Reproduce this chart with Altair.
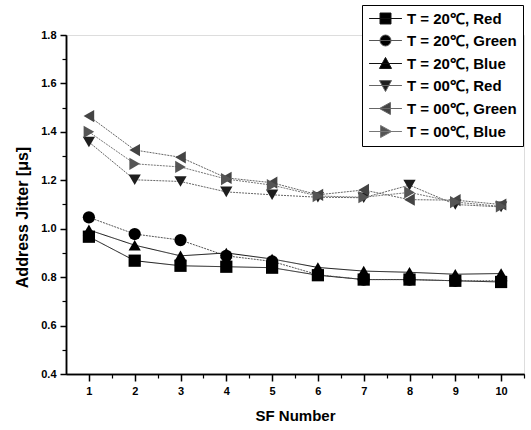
import altair as alt
import pandas as pd

sf = [1, 2, 3, 4, 5, 6, 7, 8, 9, 10]
red20 = [0.967, 0.868, 0.847, 0.843, 0.839, 0.808, 0.790, 0.790, 0.785, 0.780]
green20 = [1.047, 0.978, 0.953, 0.888, 0.865, 0.810, 0.790, 0.790, 0.785, 0.785]
blue20 = [0.995, 0.932, 0.888, 0.900, 0.875, 0.840, 0.825, 0.820, 0.812, 0.815]
red00 = [1.358, 1.202, 1.195, 1.152, 1.140, 1.130, 1.128, 1.180, 1.100, 1.090]
green00 = [1.465, 1.325, 1.295, 1.210, 1.190, 1.140, 1.160, 1.120, 1.118, 1.100]
blue00 = [1.400, 1.268, 1.255, 1.205, 1.180, 1.135, 1.130, 1.150, 1.110, 1.092]

series_names = ["T = 20℃, Red", "T = 20℃, Green", "T = 20℃, Blue",
                "T = 00℃, Red", "T = 00℃, Green", "T = 00℃, Blue"]
series_values = [red20, green20, blue20, red00, green00, blue00]

x_major = [1, 2, 3, 4, 5, 6, 7, 8, 9, 10]
x_minor = [1.5, 2.5, 3.5, 4.5, 5.5, 6.5, 7.5, 8.5, 9.5, 10.5]
y_major = [0.4, 0.6, 0.8, 1.0, 1.2, 1.4, 1.6, 1.8]
y_minor = [0.5, 0.7, 0.9, 1.1, 1.3, 1.5, 1.7]

marker_colors = ["#000000", "#000000", "#000000", "#1e1e1e", "#444444", "#555555"]
line_colors = ["#111111", "#555555", "#111111", "#666666", "#666666", "#777777"]
dashes = [[1, 0], [2, 1], [1, 0], [2, 1], [2, 1], [2, 1]]
plot_shapes = ["square", "circle", "triangle-up", "triangle-down", "triangle-left", "triangle-right"]
legend_shapes = [
    "M-3,0H3M-1,-1H1V1H-1Z",
    "M-3,0H3M1,0A1,1,0,1,1,-1,0A1,1,0,1,1,1,0Z",
    "M-3,0H3M0,-1.1L1.1,0.9H-1.1Z",
    "M-3,0H3M0,1.1L1.1,-0.9H-1.1Z",
    "M-3,0H3M-1.1,0L0.9,-1.1V1.1Z",
    "M-3,0H3M1.1,0L-0.9,-1.1V1.1Z",
]

rows = []
for name, vals in zip(series_names, series_values):
    for s, v in zip(sf, vals):
        rows.append({"sf": s, "value": v, "series": name})
df = pd.DataFrame(rows)

FONT = "Liberation Sans"
xscale = alt.Scale(domain=[0.5, 10.5], nice=False, zero=False)
yscale = alt.Scale(domain=[0.4, 1.8], nice=False, zero=False)

x_main_axis = alt.Axis(values=x_major, title="SF Number", grid=False, tickSize=7, orient="bottom",
                       tickWidth=1.5, labelPadding=4, titlePadding=12,
                       labelFont=FONT, labelFontWeight="bold", labelFontSize=11,
                       titleFont=FONT, titleFontWeight="bold", titleFontSize=15,
                       labelColor="black", titleColor="black", domainColor="black",
                       tickColor="black", domainWidth=1.5)
y_main_axis = alt.Axis(values=y_major, format=".1f", title="Address Jitter [μs]", grid=False,
                       orient="left", titleY=182,
                       tickSize=6, tickWidth=1.5, labelPadding=4, titlePadding=10,
                       labelFont=FONT, labelFontWeight="bold", labelFontSize=11,
                       titleFont=FONT, titleFontWeight="bold", titleFontSize=16,
                       labelColor="black", titleColor="black", domainColor="black",
                       tickColor="black", domainWidth=1.5)
x_minor_axis = alt.Axis(values=x_minor, labels=False, title=None, grid=False, tickSize=4,
                        orient="bottom",
                        tickWidth=1.2, tickColor="black", domainColor="black", domainWidth=1.5)
y_minor_axis = alt.Axis(values=y_minor, labels=False, title=None, grid=False, tickSize=4,
                        orient="left",
                        tickWidth=1.2, tickColor="black", domainColor="black", domainWidth=1.5)

lines = alt.Chart(df).mark_line(strokeWidth=1).encode(
    x=alt.X("sf:Q", scale=xscale, axis=x_main_axis),
    y=alt.Y("value:Q", scale=yscale, axis=y_main_axis),
    color=alt.Color("series:N", scale=alt.Scale(domain=series_names, range=line_colors), legend=None),
    strokeDash=alt.StrokeDash("series:N", scale=alt.Scale(domain=series_names, range=dashes), legend=None),
)

points = alt.Chart(df).mark_point(filled=True, size=150, opacity=1).encode(
    x=alt.X("sf:Q", scale=xscale, axis=None),
    y=alt.Y("value:Q", scale=yscale, axis=None),
    color=alt.Color("series:N", scale=alt.Scale(domain=series_names, range=marker_colors), legend=None),
    shape=alt.Shape("series:N", scale=alt.Scale(domain=series_names, range=plot_shapes), legend=None),
)

legend = alt.Legend(title=None, orient="none", legendX=296, legendY=-30,
                    strokeColor="black", fillColor="white", padding=6,
                    labelFont=FONT, labelFontWeight="bold", labelFontSize=15, labelColor="black",
                    symbolSize=120, symbolOpacity=1, symbolStrokeWidth=1,
                    symbolOffset=10, labelOffset=14, rowPadding=6, labelLimit=300)

legend_layer = alt.Chart(df).mark_point(filled=True, size=120, opacity=0).encode(
    x=alt.X("sf:Q", scale=xscale, axis=x_minor_axis),
    y=alt.Y("value:Q", scale=yscale, axis=y_minor_axis),
    color=alt.Color("series:N", scale=alt.Scale(domain=series_names, range=marker_colors), legend=legend),
    stroke=alt.Stroke("series:N", scale=alt.Scale(domain=series_names, range=line_colors), legend=legend),
    shape=alt.Shape("series:N", scale=alt.Scale(domain=series_names, range=legend_shapes), legend=legend),
)

chart = alt.layer(lines, points, legend_layer).resolve_scale(
    color="independent", shape="independent", strokeDash="independent", stroke="independent"
).resolve_axis(x="independent", y="independent").properties(
    width=458, height=339,
    autosize=alt.AutoSizeParams(type="none"),
    padding={"left": 66, "top": 35, "right": 7, "bottom": 56},
).configure_view(stroke=None).configure(background="white")

chart.save("out.html", embed_options={"renderer": "svg", "actions": False})
